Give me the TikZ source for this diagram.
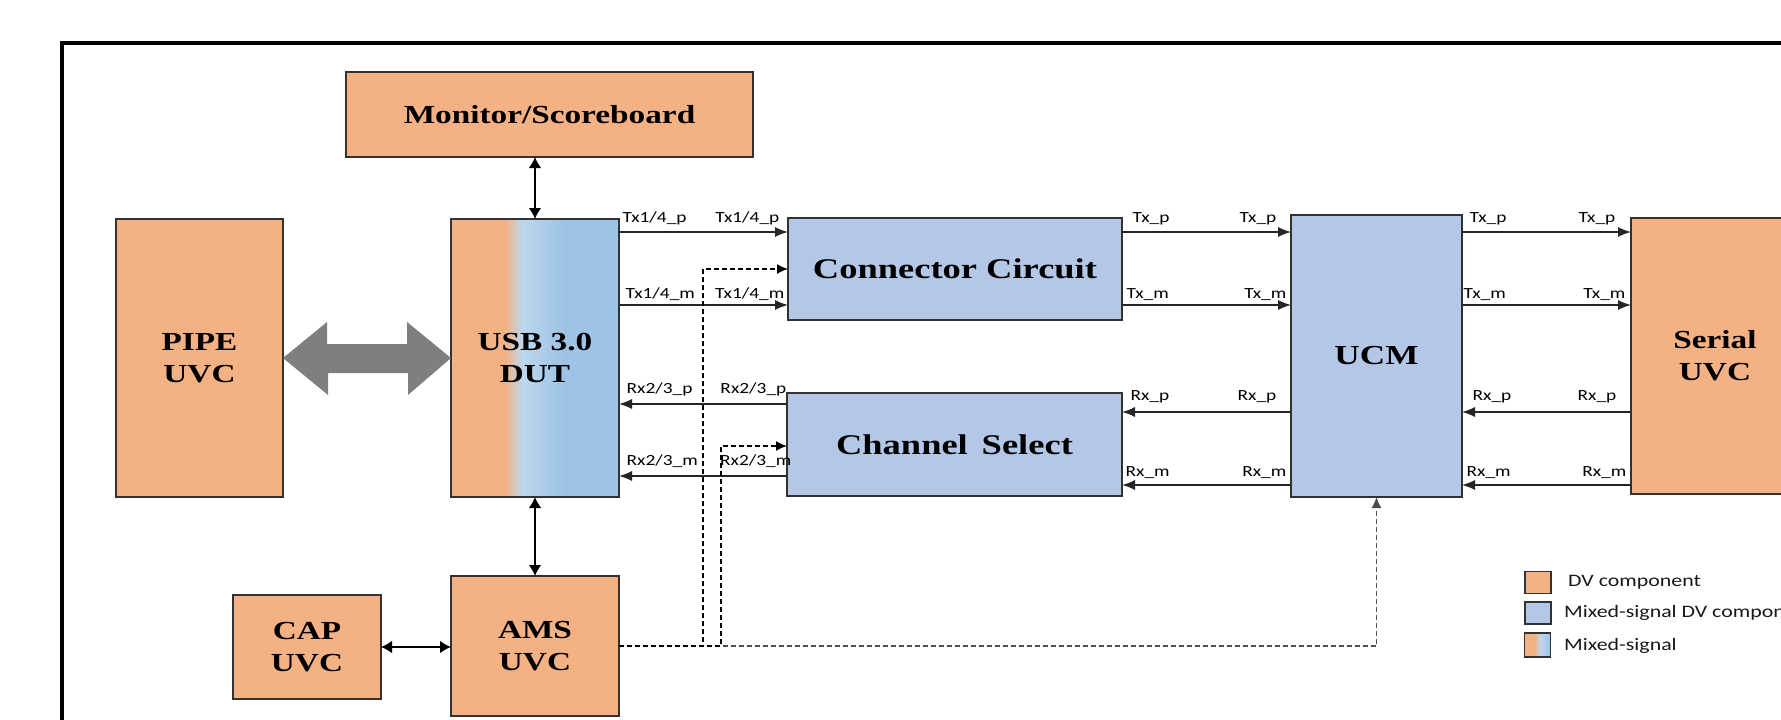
\documentclass[tikz,border=0pt]{standalone}
\usepackage{fontspec}
\usetikzlibrary{arrows.meta,calc}
\newfontfamily\ttlfont[FakeStretch=1.28]{Liberation Serif}
\newfontfamily\lblfont[FakeStretch=1.25]{Carlito}
\definecolor{dvor}{RGB}{244,177,131}
\definecolor{msblue}{RGB}{180,199,231}
\definecolor{usbblue}{RGB}{157,195,230}
\definecolor{usblight}{RGB}{189,215,238}
\definecolor{bordc}{RGB}{50,50,50}
\definecolor{bigarr}{RGB}{127,127,127}
\tikzset{
  box/.style={draw=bordc, line width=1.4pt, inner sep=0pt, outer sep=0pt, align=center,
    font=\ttlfont\bfseries\fontsize{26}{32}\selectfont},
  dvbox/.style={box, fill=dvor},
  msbox/.style={box, fill=msblue},
  sigr/.style={line width=1.3pt, draw=black!85, -{Latex[length=13pt,width=10pt]}},
  sigl/.style={line width=1.3pt, draw=black!85, {Latex[length=13pt,width=10pt]}-},
  lbl/.style={font=\lblfont\fontsize{15.5}{18}\selectfont, inner sep=0pt, text=black},
  lgd/.style={font=\lblfont\fontsize{17.5}{20}\selectfont, inner sep=0pt, text=black!90, anchor=west},
  dsh/.style={line width=1.4pt, dash pattern=on 5pt off 3pt, -{Latex[length=11pt,width=10pt]}},
  bidir/.style={line width=2.8pt, {Latex[length=11pt,width=13pt]}-{Latex[length=11pt,width=13pt]}},
  lsq/.style={draw=bordc, line width=1.4pt, minimum width=26pt, minimum height=22pt, inner sep=0pt},
}
\begin{document}
\begin{tikzpicture}[x=1pt,y=-1pt]
\useasboundingbox (0,0) rectangle (1781,720);
\clip (0,0) rectangle (1781,720);
\fill[white] (0,0) rectangle (1781,720);
% frame
\draw[line width=4pt] (61.5,43) rectangle (1900,800);

% boxes
\node[dvbox, minimum width=407pt, minimum height=85pt] (mon) at (549.5,114.5) {Monitor/Scoreboard};
\node[dvbox, minimum width=167pt, minimum height=278pt] (pipe) at (199.5,358) {PIPE\\UVC};
\node[box, minimum width=168pt, minimum height=278pt,
  path picture={
    \fill[dvor] (path picture bounding box.north west) rectangle ([xshift=54pt]path picture bounding box.south west);
    \shade[left color=dvor, right color=usblight] ([xshift=54pt]path picture bounding box.north west) rectangle ([xshift=71pt]path picture bounding box.south west);
    \shade[left color=usblight, right color=usbblue] ([xshift=71pt]path picture bounding box.north west) rectangle ([xshift=114pt]path picture bounding box.south west);
    \fill[usbblue] ([xshift=114pt]path picture bounding box.north west) rectangle (path picture bounding box.south east);
  }] (usb) at (535,358) {USB 3.0\\DUT};
\node[msbox, minimum width=334pt, minimum height=102pt, font=\ttlfont\bfseries\fontsize{28.5}{34}\selectfont] (conn) at (955,269) {Connector Circuit};
\node[msbox, minimum width=335pt, minimum height=103pt, font=\ttlfont\bfseries\fontsize{28.5}{34}\selectfont] (chan) at (954.5,444.5) {Channel\ \,Select};
\node[msbox, minimum width=171pt, minimum height=282pt, font=\ttlfont\bfseries\fontsize{27.5}{34}\selectfont] (ucm) at (1376.5,356) {UCM};
\node[dvbox, minimum width=168pt, minimum height=276pt] (serial) at (1715,356) {Serial\\UVC};
\node[dvbox, minimum width=148pt, minimum height=104pt] (cap) at (307,647) {CAP\\UVC};
\node[dvbox, minimum width=168pt, minimum height=140pt] (ams) at (535,646) {AMS\\UVC};

% big grey double arrow
\fill[bigarr] (pipe.east) -- ++(44,-36) -- ++(0,22) -- ++(80,0) -- ++(0,-22) -- (usb.west)
  -- ++(-43,37) -- ++(0,-22) -- ++(-80,0) -- ++(0,22) -- cycle;

% bidirectional black arrows
\draw[bidir] (usb.north |- mon.south) -- (usb.north);
\draw[bidir] (usb.south) -- (ams.north);
\draw[bidir] (cap.east) -- (cap.east -| ams.west);

% row coordinates
\coordinate (ty1) at (0,232);
\coordinate (ty2) at (0,305);
\coordinate (ra1) at (0,404);
\coordinate (ra2) at (0,476);
\coordinate (rb1) at (0,412);
\coordinate (rb2) at (0,485);

% Tx rows
\draw[sigr] (usb.east |- ty1) -- (conn.west |- ty1)
  node[lbl, pos=0, anchor=base west, xshift=3pt, yshift=10pt] {Tx1/4\_p}
  node[lbl, pos=1, anchor=base east, xshift=-8pt, yshift=10pt] {Tx1/4\_p};
\draw[sigr] (usb.east |- ty2) -- (conn.west |- ty2)
  node[lbl, pos=0, anchor=base west, xshift=6pt, yshift=7pt] {Tx1/4\_m}
  node[lbl, pos=1, anchor=base east, xshift=-3pt, yshift=7pt] {Tx1/4\_m};
\draw[sigr] (conn.east |- ty1) -- (ucm.west |- ty1)
  node[lbl, pos=0, anchor=base west, xshift=10pt, yshift=10pt] {Tx\_p}
  node[lbl, pos=1, anchor=base east, xshift=-14pt, yshift=10pt] {Tx\_p};
\draw[sigr] (conn.east |- ty2) -- (ucm.west |- ty2)
  node[lbl, pos=0, anchor=base west, xshift=4pt, yshift=7pt] {Tx\_m}
  node[lbl, pos=1, anchor=base east, xshift=-4pt, yshift=7pt] {Tx\_m};
\draw[sigr] (ucm.east |- ty1) -- (serial.west |- ty1)
  node[lbl, pos=0, anchor=base west, xshift=7pt, yshift=10pt] {Tx\_p}
  node[lbl, pos=1, anchor=base east, xshift=-15pt, yshift=10pt] {Tx\_p};
\draw[sigr] (ucm.east |- ty2) -- (serial.west |- ty2)
  node[lbl, pos=0, anchor=base west, xshift=1pt, yshift=7pt] {Tx\_m}
  node[lbl, pos=1, anchor=base east, xshift=-5pt, yshift=7pt] {Tx\_m};

% Rx rows
\draw[sigl] (usb.east |- ra1) -- (chan.west |- ra1)
  node[lbl, pos=0, anchor=base west, xshift=7pt, yshift=11pt] {Rx2/3\_p}
  node[lbl, pos=1, anchor=base east, xshift=0pt, yshift=11pt] {Rx2/3\_p};
\draw[sigl] (usb.east |- ra2) -- (chan.west |- ra2)
  node[lbl, pos=0, anchor=base west, xshift=7pt, yshift=11pt] {Rx2/3\_m}
  node[lbl, pos=1, anchor=base east, xshift=5pt, yshift=11pt] {Rx2/3\_m};
\draw[sigl] (chan.east |- rb1) -- (ucm.west |- rb1)
  node[lbl, pos=0, anchor=base west, xshift=8pt, yshift=12pt] {Rx\_p}
  node[lbl, pos=1, anchor=base east, xshift=-14pt, yshift=12pt] {Rx\_p};
\draw[sigl] (chan.east |- rb2) -- (ucm.west |- rb2)
  node[lbl, pos=0, anchor=base west, xshift=3pt, yshift=9pt] {Rx\_m}
  node[lbl, pos=1, anchor=base east, xshift=-4pt, yshift=9pt] {Rx\_m};
\draw[sigl] (ucm.east |- rb1) -- (serial.west |- rb1)
  node[lbl, pos=0, anchor=base west, xshift=10pt, yshift=12pt] {Rx\_p}
  node[lbl, pos=1, anchor=base east, xshift=-14pt, yshift=12pt] {Rx\_p};
\draw[sigl] (ucm.east |- rb2) -- (serial.west |- rb2)
  node[lbl, pos=0, anchor=base west, xshift=4pt, yshift=9pt] {Rx\_m}
  node[lbl, pos=1, anchor=base east, xshift=-4pt, yshift=9pt] {Rx\_m};

% dashed control lines
\coordinate (dA) at (703,269);
\coordinate (dB) at (721,446);
\draw[dsh, draw=black!70] (ams.east) -- (ams.east -| ucm.south) -- (ucm.south);
\draw[dsh] (ams.east) -- (ams.east -| dA) -- (dA) -- (conn.west |- dA);
\draw[dsh] (ams.east) -- (ams.east -| dB) -- (dB) -- (chan.west |- dB);

% legend
\node[lsq, fill=dvor] (lg1) at (1538,582.5) {};
\node[lsq, fill=msblue] (lg2) at (1538,613) {};
\node[lsq, minimum height=24pt,
  path picture={
    \fill[dvor] (path picture bounding box.north west) rectangle ([xshift=10pt]path picture bounding box.south west);
    \shade[left color=dvor, right color=usblight] ([xshift=10pt]path picture bounding box.north west) rectangle ([xshift=16pt]path picture bounding box.south west);
    \shade[left color=usblight, right color=usbblue] ([xshift=16pt]path picture bounding box.north west) rectangle (path picture bounding box.south east);
  }] (lg3) at (1537.5,645) {};
\node[lgd] (lt1) at (1568,582) {DV component};
\node[lgd] (lt2) at (1564,613) {Mixed-signal DV component};
\node[lgd] (lt3) at (1564,646) {Mixed-signal};
\end{tikzpicture}
\end{document}
